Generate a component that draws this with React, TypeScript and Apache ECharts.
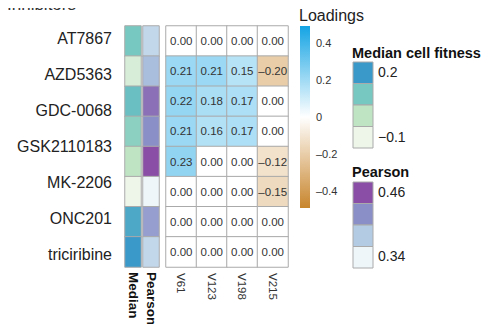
import React, { useEffect, useRef } from "react";
import * as echarts from "echarts";

const FONT = "Liberation Sans, Arial, Helvetica, sans-serif";

const drugs = ["AT7867", "AZD5363", "GDC-0068", "GSK2110183", "MK-2206", "ONC201", "triciribine"];
const rowIds = ["r1", "r2", "r3", "r4", "r5", "r6", "r7", "r8"];
const components = ["V61", "V123", "V198", "V215"];
const loadings = [
  [0.0, 0.0, 0.0, 0.0],
  [0.21, 0.21, 0.15, -0.2],
  [0.22, 0.18, 0.17, 0.0],
  [0.21, 0.16, 0.17, 0.0],
  [0.23, 0.0, 0.0, -0.12],
  [0.0, 0.0, 0.0, -0.15],
  [0.0, 0.0, 0.0, 0.0],
  [0.0, 0.0, 0.0, 0.0],
];
const medianFitness = [0.1, -0.05, 0.12, 0.07, 0.0, -0.1, 0.17, 0.2];
const pearson = [0.37, 0.39, 0.44, 0.42, 0.46, 0.34, 0.41, 0.37];
const loadingTicks = [-0.4, -0.2, 0, 0.2, 0.4];
const loadingRange = 0.49;
const medianLegendLabels = ["0.2", "\u22120.1"];
const pearsonLegendLabels = ["0.46", "0.34"];
const medianColors = ["#eef6ea", "#bfe4c4", "#76c8c0", "#3b99c9"];
const pearsonColors = ["#eef6fa", "#b3cce4", "#8b8fc7", "#8a4ea6"];

const fmt = (v: number) => (v < 0 ? "\u2013" + Math.abs(v).toFixed(2) : v.toFixed(2));

export default function App() {
  const ref = useRef<HTMLDivElement>(null);
  useEffect(() => {
    if (!ref.current) return;
    const chart = echarts.init(ref.current, undefined, { renderer: "svg" });
    const heatData: any[] = [];
    loadings.forEach((row, r) => row.forEach((v, c) => heatData.push([c, r, v])));
    const top = 26;
    const h = 241;

    const legendBlocks = (x: number, y: number, colors: string[], bh: number) =>
      colors
        .slice()
        .reverse()
        .map((col, i) => ({
          type: "rect",
          shape: { x, y: y + i * bh, width: 20, height: bh },
          style: { fill: col, stroke: "#aaaaaa", lineWidth: 1 },
        }));

    const option: any = {
      animation: false,
      textStyle: { fontFamily: FONT },
      grid: [
        { left: 166, top, width: 122, height: h },
        { left: 125, top, width: 16, height: h },
        { left: 143, top, width: 16, height: h },
        { left: 118, top: 20, width: 1, height: 252 },
        { left: 300, top: 26, width: 10, height: 182 },
      ],
      xAxis: [
        {
          gridIndex: 0,
          type: "category",
          data: components,
          position: "bottom",
          axisLine: { show: false },
          axisTick: { show: false },
          axisLabel: { rotate: -90, margin: 6, fontSize: 11.5, color: "#333", fontFamily: FONT },
        },
        {
          gridIndex: 1,
          type: "category",
          data: ["Median"],
          axisLine: { show: false },
          axisTick: { show: false },
          axisLabel: { rotate: -90, margin: 5, fontSize: 13.5, fontWeight: "bold", color: "#111", fontFamily: FONT },
        },
        {
          gridIndex: 2,
          type: "category",
          data: ["Pearson"],
          axisLine: { show: false },
          axisTick: { show: false },
          axisLabel: { rotate: -90, margin: 5, fontSize: 13.5, fontWeight: "bold", color: "#111", fontFamily: FONT },
        },
        { gridIndex: 3, type: "value", show: false },
        { gridIndex: 4, type: "value", show: false },
      ],
      yAxis: [
        { gridIndex: 0, type: "category", data: rowIds, inverse: true, show: false },
        { gridIndex: 1, type: "category", data: rowIds, inverse: true, show: false },
        { gridIndex: 2, type: "category", data: rowIds, inverse: true, show: false },
        {
          gridIndex: 3,
          type: "category",
          data: drugs,
          inverse: true,
          axisLine: { show: false },
          axisTick: { show: false },
          axisLabel: { margin: 6, fontSize: 16, color: "#222", fontFamily: FONT },
        },
        {
          gridIndex: 4,
          type: "value",
          position: "right",
          min: -loadingRange,
          max: loadingRange,
          splitLine: { show: false },
          axisLine: { show: false },
          axisTick: { show: false },
          axisLabel: {
            customValues: loadingTicks,
            margin: 6,
            fontSize: 11,
            color: "#333",
            fontFamily: FONT,
            formatter: (v: number) => (v < 0 ? "\u2013" + Math.abs(v).toFixed(1) : v === 0 ? "0" : v.toFixed(1)),
          },
        },
      ],
      visualMap: [
        {
          type: "continuous",
          show: false,
          seriesIndex: 0,
          min: -loadingRange,
          max: loadingRange,
          inRange: { color: ["#c8852c", "#ffffff", "#14a4e4"] },
        },
        {
          type: "continuous",
          show: false,
          seriesIndex: 1,
          min: -0.1,
          max: 0.2,
          inRange: { color: medianColors },
        },
        {
          type: "continuous",
          show: false,
          seriesIndex: 2,
          min: 0.34,
          max: 0.46,
          inRange: { color: pearsonColors },
        },
      ],
      series: [
        {
          type: "heatmap",
          xAxisIndex: 0,
          yAxisIndex: 0,
          data: heatData,
          itemStyle: { borderColor: "#aaaaaa", borderWidth: 1 },
          label: {
            show: true,
            fontSize: 11.5,
            color: "#333",
            fontFamily: FONT,
            formatter: (p: any) => fmt(p.value[2]),
          },
        },
        {
          type: "heatmap",
          xAxisIndex: 1,
          yAxisIndex: 1,
          data: medianFitness.map((v, i) => [0, i, v]),
          itemStyle: { borderColor: "#aaaaaa", borderWidth: 1 },
        },
        {
          type: "heatmap",
          xAxisIndex: 2,
          yAxisIndex: 2,
          data: pearson.map((v, i) => [0, i, v]),
          itemStyle: { borderColor: "#aaaaaa", borderWidth: 1 },
        },
      ],
      graphic: [
        {
          type: "text",
          x: 7,
          y: 13,
          z: 100,
          style: {
            text: "Inhibitors",
            fontSize: 17,
            fill: "#333",
            fontFamily: FONT,
            verticalAlign: "bottom",
          },
        },
        {
          type: "rect",
          shape: { x: 300, y: 26, width: 10, height: 182 },
          style: {
            fill: new echarts.graphic.LinearGradient(0, 0, 0, 1, [
              { offset: 0, color: "#14a4e4" },
              { offset: 0.5, color: "#ffffff" },
              { offset: 1, color: "#c8852c" },
            ]),
          },
        },
        {
          type: "text",
          left: 299,
          top: 7,
          style: { text: "Loadings", fontSize: 16, fill: "#222", fontFamily: FONT },
        },
        {
          type: "text",
          left: 352,
          top: 45,
          style: { text: "Median cell fitness", fontSize: 14.5, fontWeight: "bold", fill: "#111", fontFamily: FONT },
        },
        ...legendBlocks(353, 62, medianColors, 21.5),
        {
          type: "text",
          left: 378,
          top: 65,
          style: { text: medianLegendLabels[0], fontSize: 14, fill: "#222", fontFamily: FONT },
        },
        {
          type: "text",
          left: 378,
          top: 130,
          style: { text: medianLegendLabels[1], fontSize: 14, fill: "#222", fontFamily: FONT },
        },
        {
          type: "text",
          left: 352,
          top: 164,
          style: { text: "Pearson", fontSize: 14.5, fontWeight: "bold", fill: "#111", fontFamily: FONT },
        },
        ...legendBlocks(353, 182, pearsonColors, 21.5),
        {
          type: "text",
          left: 378,
          top: 185,
          style: { text: pearsonLegendLabels[0], fontSize: 14, fill: "#222", fontFamily: FONT },
        },
        {
          type: "text",
          left: 378,
          top: 249,
          style: { text: pearsonLegendLabels[1], fontSize: 14, fill: "#222", fontFamily: FONT },
        },
      ],
    };
    chart.setOption(option);
    return () => chart.dispose();
  }, []);
  return <div ref={ref} style={{ width: 493, height: 332, margin: -8 }} />;
}
